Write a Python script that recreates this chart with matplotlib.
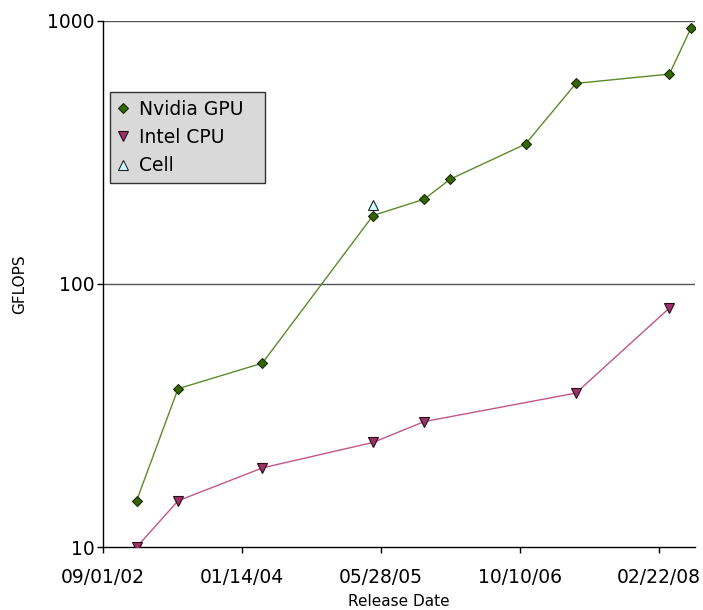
import matplotlib
matplotlib.use("Agg")
import matplotlib.pyplot as plt
import matplotlib.dates as mdates
from matplotlib.ticker import FixedLocator, FixedFormatter, NullLocator
import datetime as dt

# ---- data ----
nvidia_dates = ["2003-01-01", "2003-05-30", "2004-03-28", "2005-04-30", "2005-10-31",
                "2006-02-01", "2006-10-30", "2007-04-29", "2008-03-30", "2008-06-15"]
nvidia_gflops = [15, 40, 50, 182, 210, 250, 340, 578, 627, 935]

intel_dates = ["2003-01-01", "2003-05-30", "2004-03-28", "2005-04-30", "2005-10-31",
               "2007-04-29", "2008-03-30"]
intel_gflops = [10, 15, 20, 25, 30, 38.5, 81]

cell_dates = ["2005-04-30"]
cell_gflops = [200]

xtick_labels = ["09/01/02", "01/14/04", "05/28/05", "10/10/06", "02/22/08"]
ytick_values = [10, 100, 1000]
ytick_labels = ["10", "100", "1000"]

def to_dates(lst):
    return [dt.datetime.strptime(s, "%Y-%m-%d") for s in lst]

fig = plt.figure(figsize=(7.03, 6.10), dpi=100)
ax = fig.add_axes([0.146, 0.103, 0.843, 0.863])

ax.plot(to_dates(nvidia_dates), nvidia_gflops, color="#5b8a2b", lw=1.0,
        marker="D", markersize=5.5, markerfacecolor="#336600",
        markeredgecolor="#1a2a0a", markeredgewidth=0.8, label="Nvidia GPU", zorder=3)
ax.plot(to_dates(intel_dates), intel_gflops, color="#c0578a", lw=1.0,
        marker="v", markersize=6.5, markerfacecolor="#993366",
        markeredgecolor="#2a0a1a", markeredgewidth=0.8, label="Intel CPU", zorder=3)
ax.plot(to_dates(cell_dates), cell_gflops, linestyle="none",
        marker="^", markersize=6.5, markerfacecolor="#ccffff",
        markeredgecolor="#222222", markeredgewidth=0.8, label="Cell", zorder=3)

ax.set_yscale("log")
ax.set_ylim(10, 1000)
ax.yaxis.set_major_locator(FixedLocator(ytick_values))
ax.yaxis.set_major_formatter(FixedFormatter(ytick_labels))
ax.yaxis.set_minor_locator(NullLocator())

xticks = [mdates.date2num(dt.datetime.strptime(s, "%m/%d/%y")) for s in xtick_labels]
ax.set_xlim(mdates.date2num(dt.datetime(2002, 9, 1)), mdates.date2num(dt.datetime(2008, 7, 1)))
ax.set_xticks(xticks)
ax.set_xticklabels(xtick_labels)

for y in ytick_values[1:]:
    ax.axhline(y, color="#555555", lw=1.0, zorder=1)

for s in ["right", "top"]:
    ax.spines[s].set_visible(False)
ax.spines["left"].set_linewidth(1.0)
ax.spines["bottom"].set_linewidth(1.0)

ax.tick_params(axis="both", direction="out", length=4, width=1, labelsize=13.5, pad=2)
ax.tick_params(axis="x", pad=11)

ax.set_xlabel("Release Date", fontsize=11, labelpad=5)
ax.set_ylabel("GFLOPS", fontsize=11, labelpad=14)

leg = ax.legend(loc="upper left", bbox_to_anchor=(0.0125, 0.8645, 0.262, 0.0),
                mode="expand", fontsize=13.5,
                frameon=True, fancybox=False, edgecolor="#333333",
                facecolor="#d9d9d9", framealpha=1.0, handlelength=0.6,
                handletextpad=0.55, borderpad=0.4, labelspacing=0.5, borderaxespad=0)
leg.get_frame().set_linewidth(1.0)
for h in leg.legend_handles:
    h.set_linestyle("none")

fig.savefig("out.png", dpi=100)
